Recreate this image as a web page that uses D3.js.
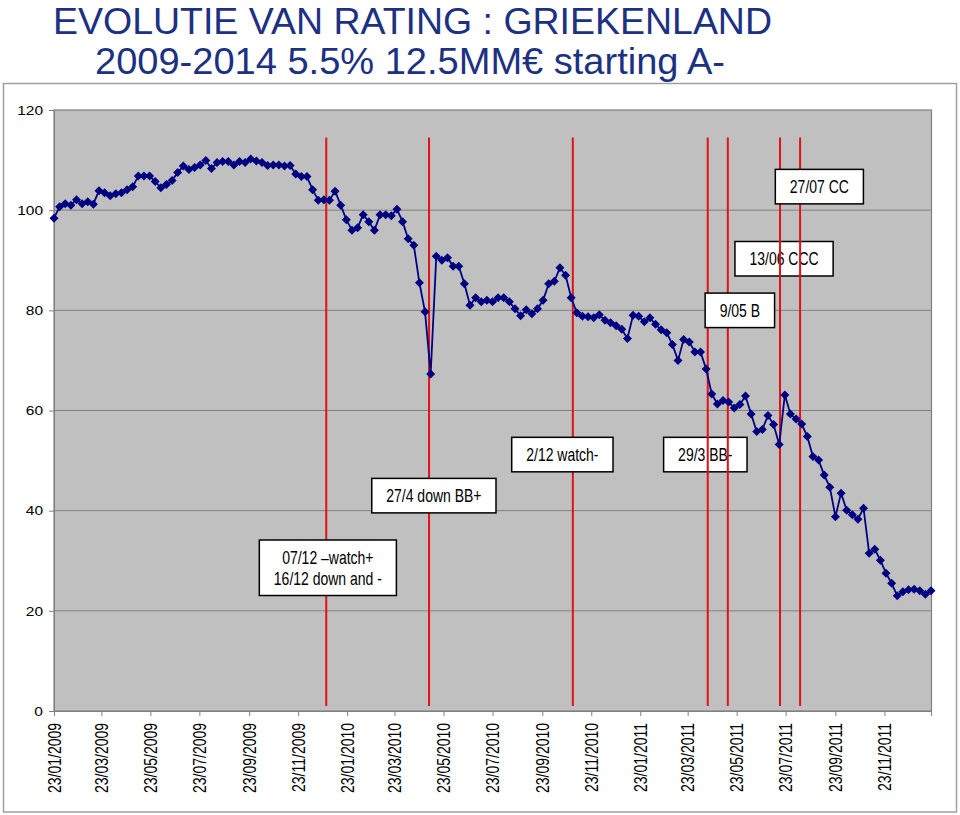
<!DOCTYPE html>
<html><head><meta charset="utf-8">
<script src="https://cdn.jsdelivr.net/npm/d3@7"></script>
<style>body{margin:0;background:#fff}</style>
</head><body><svg id="c" width="960" height="815"></svg>
<script>
// ---------- DATA ----------
const titleLines = ["EVOLUTIE VAN RATING : GRIEKENLAND", "2009-2014 5.5% 12.5MM€ starting A-"];
const startDate = "2009-01-23";   // first weekly observation
const endDate = "2012-01-20";     // last weekly observation
const prices = [
  98.4, 100.7, 101.3, 101, 102.1, 101.3, 101.7, 101.2, 103.9, 103.5,
  102.9, 103.3, 103.5, 104.1, 104.7, 106.8, 106.8, 106.8, 105.7, 104.5,
  105.1, 105.9, 107.5, 108.8, 108.1, 108.5, 109, 109.9, 108.3, 109.5,
  109.7, 109.7, 109, 109.7, 109.5, 110.2, 109.8, 109.5, 108.9, 109,
  109, 108.8, 108.9, 107.2, 106.7, 106.7, 104.1, 102, 102.1,
  102, 103.8, 101, 98.1, 96, 96.5, 99.1, 97.7, 96, 99.1, 99.1,
  98.9, 100.2, 97.7, 94.3, 93, 85.5, 79.7, 67.3, 90.8, 90,
  90.5, 88.8, 88.8, 85.3, 81, 82.5, 81.7, 82, 81.7, 82.5,
  82.5, 81.7, 80.3, 78.9, 80.1, 79.3, 80.3, 82, 85.3, 85.8,
  88.5, 87, 82.5, 79.5, 78.8, 78.7, 78.5, 79.1, 78, 77.5,
  76.9, 76.2, 74.4, 79, 78.8, 77.7, 78.5, 77.2, 76.1, 75.5,
  73.2, 70, 74.2, 73.7, 71.7, 71.7, 68.3, 63.3, 61.3, 62,
  61.7, 60.5, 61.2, 62.9, 59.3, 55.8, 56.2, 59, 57.2, 53.2,
  63.1, 59.3, 58.3, 57.3, 54.8, 50.8, 50.1, 47.1, 44.7, 38.8,
  43.5, 40.1, 39.2, 38.3, 40.5, 31.5, 32.3, 30.1, 27.5, 25.5,
  23, 23.8, 24.2, 24.3, 24, 23.3, 24
];
const yTicks = [0, 20, 40, 60, 80, 100, 120];
const xTickLabels = ["23/01/2009","23/03/2009","23/05/2009","23/07/2009","23/09/2009","23/11/2009",
  "23/01/2010","23/03/2010","23/05/2010","23/07/2010","23/09/2010","23/11/2010",
  "23/01/2011","23/03/2011","23/05/2011","23/07/2011","23/09/2011","23/11/2011"];
const eventDates = ["2009-12-28","2010-05-05","2010-10-31","2011-04-17","2011-05-12","2011-07-16","2011-08-10"];
const annotationTexts = [
  ["07/12 \u2013watch+", "16/12 down and -"],
  ["27/4 down BB+"],
  ["2/12 watch-"],
  ["29/3 BB-"],
  ["9/05 B"],
  ["13/06 CCC"],
  ["27/07 CC"]
];
const annotationDates = ["2009-12-30","2010-05-11","2010-10-18","2011-04-14","2011-05-27","2011-07-21","2011-09-03"];
const annotationValues = [28.6, 43.0, 51.2, 51.2, 80.0, 90.3, 104.7];

// ---------- LAYOUT / STYLE ----------
const plot = {left: 54, right: 931.5, top: 110, bottom: 711};
const eventTop = 114.5, eventBottom = 1;
const boxBehindLines = [false, false, false, true, false, true, false];
const regular = "'Liberation Sans', Arial, sans-serif";
const squeeze = 0.8;   // condensed look of the original labels

const parseISO = d3.timeParse("%Y-%m-%d");
const parseDMY = d3.timeParse("%d/%m/%Y");
const start = parseISO(startDate);
const dates = prices.map((v, i) => d3.timeDay.offset(start, 7 * i));
const series = prices.map((v, i) => ({date: dates[i], value: v}));

const x = d3.scaleTime().domain([start, parseISO(endDate)]).range([plot.left, 931]);
const y = d3.scaleLinear().domain([0, 120]).range([plot.bottom, plot.top]);

const svg = d3.select("#c");

// title
svg.append("g").selectAll("text").data(titleLines).join("text")
  .attr("x", (d, i) => i === 0 ? 53 : 95)
  .attr("y", (d, i) => i === 0 ? 33.5 : 73.5)
  .attr("textLength", (d, i) => i === 0 ? 719 : 630)
  .attr("lengthAdjust", "spacingAndGlyphs")
  .attr("font-family", regular)
  .attr("font-size", 36)
  .attr("fill", "#1c3182")
  .text(d => d);

// outer chart border
svg.append("rect").attr("x", 3.5).attr("y", 83.5).attr("width", 953).attr("height", 728.5)
  .attr("fill", "none").attr("stroke", "#a0a0a0").attr("stroke-width", 1.5);

// plot area
svg.append("rect").attr("x", plot.left).attr("y", plot.top)
  .attr("width", plot.right - plot.left).attr("height", plot.bottom - plot.top)
  .attr("fill", "#c0c0c0").attr("stroke", "#808080").attr("stroke-width", 1.2);

// gridlines
svg.append("g").selectAll("line").data(yTicks.filter(t => t > 0 && t < 120)).join("line")
  .attr("x1", plot.left).attr("x2", plot.right)
  .attr("y1", d => y(d)).attr("y2", d => y(d))
  .attr("stroke", "#808080").attr("stroke-width", 1);

// y axis
const yAxis = svg.append("g").attr("transform", `translate(${plot.left},0)`)
  .call(d3.axisLeft(y).tickValues(yTicks).tickSize(5).tickPadding(6).tickFormat(d3.format("d")));
yAxis.select(".domain").attr("stroke", "#808080");
yAxis.selectAll(".tick line").attr("stroke", "#808080");
yAxis.selectAll("text").attr("font-family", regular).attr("font-size", 13.5).attr("fill", "#000")
  .attr("transform", "translate(-11,0) scale(1.15,1) translate(11,0)");

// x axis
const xAxis = svg.append("g").attr("transform", `translate(0,${plot.bottom})`)
  .call(d3.axisBottom(x).tickValues(xTickLabels.map(parseDMY)).tickSize(5)
    .tickFormat(d3.timeFormat("%d/%m/%Y")));
xAxis.select(".domain").attr("stroke", "#808080");
xAxis.selectAll(".tick line").attr("stroke", "#808080");
xAxis.selectAll("text")
  .attr("font-family", regular).attr("font-size", 17.5).attr("fill", "#000")
  .attr("text-anchor", "end")
  .attr("transform", `rotate(-90) scale(${squeeze},1)`)
  .attr("x", -12 / squeeze).attr("y", 0).attr("dy", "0.36em");

// annotations
const ann = annotationTexts.map((t, i) => ({
  lines: t, date: parseISO(annotationDates[i]), value: annotationValues[i], behind: boxBehindLines[i]
}));
function drawBoxes(g, list) {
  const grp = g.selectAll("g").data(list).join("g")
    .attr("transform", d => `translate(${x(d.date)},${y(d.value)})`);
  grp.each(function(d) {
    const gg = d3.select(this);
    const rect = gg.append("rect").attr("fill", "#fff").attr("stroke", "#000").attr("stroke-width", 1.5);
    const lh = 21;
    const txt = gg.append("g").attr("transform", `scale(${squeeze},1)`)
      .selectAll("text").data(d.lines).join("text")
      .attr("x", 0)
      .attr("y", (l, j) => (j - (d.lines.length - 1) / 2) * lh)
      .attr("dy", "0.36em")
      .attr("text-anchor", "middle")
      .attr("font-family", regular).attr("font-size", 17.5).attr("fill", "#000")
      .text(l => l);
    let w = 0;
    txt.each(function() { w = Math.max(w, this.getComputedTextLength() * squeeze); });
    const bw = w + 29, bh = d.lines.length === 1 ? 34.5 : 55.5;
    rect.attr("x", -bw / 2).attr("y", -bh / 2).attr("width", bw).attr("height", bh);
  });
}
drawBoxes(svg.append("g"), ann.filter(d => d.behind));

// event lines
svg.append("g").selectAll("line").data(eventDates.map(parseISO)).join("line")
  .attr("x1", d => x(d)).attr("x2", d => x(d))
  .attr("y1", y(eventTop)).attr("y2", y(eventBottom))
  .attr("stroke", "#e41018").attr("stroke-width", 2);

drawBoxes(svg.append("g"), ann.filter(d => !d.behind));

// series
svg.append("path").datum(series)
  .attr("fill", "none").attr("stroke", "#000080").attr("stroke-width", 1.8)
  .attr("d", d3.line().x(d => x(d.date)).y(d => y(d.value)));
const r = 4.5;
svg.append("g").selectAll("path").data(series).join("path")
  .attr("transform", d => `translate(${x(d.date)},${y(d.value)})`)
  .attr("d", `M0,${-r}L${r},0L0,${r}L${-r},0Z`)
  .attr("fill", "#000080");
</script>
</body></html>
